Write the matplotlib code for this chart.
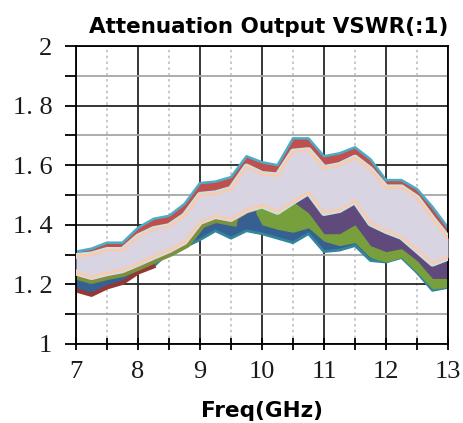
import matplotlib
matplotlib.use("Agg")
import matplotlib.pyplot as plt
from matplotlib.ticker import MultipleLocator, FuncFormatter

# frequency grid (GHz)
freq = [7.0, 7.25, 7.5, 7.75, 8.0, 8.25, 8.5, 8.75, 9.0, 9.25, 9.5, 9.75,
        10.0, 10.25, 10.5, 10.75, 11.0, 11.25, 11.5, 11.75, 12.0, 12.25,
        12.5, 12.75, 13.0]

# worst-case (highest) VSWR over all attenuation states
upper_edge = [1.31, 1.32, 1.34, 1.34, 1.39, 1.42, 1.43, 1.47, 1.54, 1.545,
              1.56, 1.63, 1.61, 1.60, 1.69, 1.69, 1.63, 1.64, 1.66, 1.62,
              1.55, 1.55, 1.52, 1.46, 1.39]
# bulk of the states (upper / lower bound)
bulk_top = [1.295, 1.30, 1.315, 1.315, 1.36, 1.385, 1.395, 1.43, 1.50, 1.505,
            1.52, 1.595, 1.57, 1.565, 1.645, 1.65, 1.59, 1.60, 1.625, 1.585,
            1.525, 1.525, 1.49, 1.42, 1.355]
bulk_bottom = [1.24, 1.225, 1.238, 1.248, 1.27, 1.293, 1.315, 1.343, 1.41,
               1.43, 1.42, 1.45, 1.465, 1.444, 1.478, 1.51, 1.44, 1.45, 1.48,
               1.405, 1.38, 1.36, 1.315, 1.27, 1.29]
# best-case (lowest) VSWR
lower_edge = [1.18, 1.165, 1.19, 1.205, 1.24, 1.26, 1.31, 1.325, 1.35, 1.38,
              1.355, 1.38, 1.37, 1.355, 1.34, 1.37, 1.31, 1.315, 1.33, 1.28,
              1.275, 1.29, 1.24, 1.18, 1.19]

# high-attenuation states
freq_gr = [9.9, 10.0, 10.25, 10.5, 10.75, 11.0, 11.25, 11.5, 11.75, 12.0,
           12.25, 12.5, 12.75, 13.0]
green_bottom = [1.44, 1.40, 1.385, 1.375, 1.39, 1.345, 1.33, 1.34, 1.29,
                1.275, 1.29, 1.24, 1.185, 1.19]
green_top = [1.46, 1.465, 1.444, 1.478, 1.51, 1.44, 1.45, 1.48, 1.405, 1.38,
             1.36, 1.315, 1.27, 1.29]
freq_pu = [10.5, 10.75, 11.0, 11.25, 11.5, 11.75, 12.0, 12.25, 12.5, 12.75, 13.0]
purple_bottom = [1.478, 1.44, 1.37, 1.37, 1.40, 1.33, 1.31, 1.32, 1.28, 1.22, 1.22]
purple_top = [1.478, 1.51, 1.44, 1.45, 1.48, 1.405, 1.38, 1.36, 1.315, 1.27, 1.29]

W, H = 463, 423
fig = plt.figure(figsize=(W / 100, H / 100), dpi=100)
ax = fig.add_axes([76 / W, 1 - 344 / H, (448 - 76) / W, (344 - 46) / H])

# lower spread of the states
ax.fill_between(freq, lower_edge, bulk_bottom, color="#376092", lw=0, zorder=2)
ax.plot(freq, lower_edge, color="#31859c", lw=2, zorder=2)
ax.plot(freq[:6], lower_edge[:6], color="#953735", lw=3, zorder=2.1)
ax.plot(freq[:11], bulk_bottom[:11], color="#77933c", lw=10, zorder=2.2)
ax.plot(freq, bulk_bottom, color="#c0702c", lw=5.5, zorder=2.3)
ax.fill_between(freq_gr, green_bottom, green_top, color="#77a03c", lw=0, zorder=2.4)
ax.fill_between(freq_pu, purple_bottom, purple_top, color="#604a7b", lw=0, zorder=2.5)

# upper spread of the states
ax.fill_between(freq, bulk_top, upper_edge, color="#c0504d", lw=0, zorder=2)
ax.plot(freq, upper_edge, color="#4bacc6", lw=1.8, zorder=2.1)

# bulk of the states
ax.fill_between(freq, bulk_bottom, bulk_top, color="#d9d4e2", lw=0, zorder=3)
for edge in (bulk_top, bulk_bottom):
    ax.plot(freq, edge, color="#c5e3ea", lw=4.5, zorder=2.9)
    ax.plot(freq, edge, color="#f8cbad", lw=2, zorder=3.1)

ax.set_xlim(7, 13)
ax.set_ylim(1, 2)
ax.xaxis.set_major_locator(MultipleLocator(1))
ax.xaxis.set_minor_locator(MultipleLocator(0.5))
ax.yaxis.set_major_locator(MultipleLocator(0.2))
ax.yaxis.set_minor_locator(MultipleLocator(0.1))


def fmt_y(v, pos):
    if abs(v - round(v)) < 1e-9:
        return f"{v:.0f}"
    return f"{v:.1f}".replace(".", ". ")


ax.yaxis.set_major_formatter(FuncFormatter(fmt_y))
ax.xaxis.set_major_formatter(FuncFormatter(lambda v, p: f"{v:.0f}"))

ax.grid(True, which="major", axis="both", color="#262626", lw=1.3, zorder=1)
ax.grid(True, which="minor", axis="y", color="#a6a6a6", lw=1.3, zorder=1)
ax.grid(True, which="minor", axis="x", color="#bfbfbf", lw=1.2,
        linestyle=(0, (1.5, 2)), zorder=1)
ax.set_axisbelow(True)

for s in ax.spines.values():
    s.set_color("#000000")
    s.set_linewidth(1.3)

ax.tick_params(axis="y", which="both", direction="out", length=8, width=1.3,
               pad=9, color="#000000", labelsize=19,
               labelfontfamily="Liberation Serif", labelcolor="#1a1a1a")
ax.tick_params(axis="x", which="both", direction="inout", length=9, width=1.3,
               pad=8, color="#000000", labelsize=19,
               labelfontfamily="Liberation Serif", labelcolor="#1a1a1a")

fig.text(448 / W, 1 - 33 / H, "Attenuation Output VSWR(:1)", ha="right",
         va="baseline", fontsize=15.5, fontweight="bold", family="DejaVu Sans")
fig.text(262 / W, 1 - 417 / H, "Freq(GHz)", ha="center", va="baseline",
         fontsize=15.5, fontweight="bold", family="DejaVu Sans")

fig.savefig("out.png", dpi=100)
